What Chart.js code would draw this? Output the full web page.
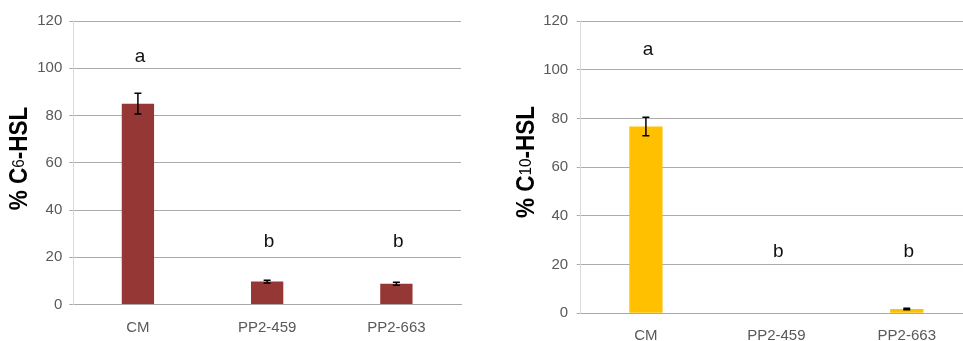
<!DOCTYPE html>
<html>
<head>
<meta charset="utf-8">
<script src="https://cdn.jsdelivr.net/npm/chart.js@4.4.1/dist/chart.umd.min.js"></script>
<style>
  html, body { margin: 0; padding: 0; background: #fff; overflow: hidden; }
  body { width: 963px; height: 341px; position: relative; }
  .panel { position: absolute; top: 0; }
</style>
</head>
<body>
<div class="panel" style="left:0px"><canvas id="c6" width="480" height="341"></canvas></div>
<div class="panel" style="left:483px"><canvas id="c10" width="490" height="360"></canvas></div>

<script>
const categories = ['CM', 'PP2-459', 'PP2-663'];

const c6Values = [85, 9.7, 8.8];
const c6Errors = [4.4, 0.6, 0.6];
const c6Letters = ['a', 'b', 'b'];

const c10Values = [76.7, 0, 1.8];
const c10Errors = [3.8, 0, 0.3];
const c10Letters = ['a', 'b', 'b'];

const yMin = 0;
const yMax = 120;
const yStep = 20;

// error bars + significance letters above each bar
const barMarks = {
  id: 'barMarks',
  afterDatasetsDraw(chart, args, opts) {
    const ctx = chart.ctx;
    const y = chart.scales.y;
    const meta = chart.getDatasetMeta(0);
    const values = chart.data.datasets[0].data;

    ctx.save();
    ctx.strokeStyle = '#000';
    ctx.lineWidth = 1.5;
    meta.data.forEach((bar, i) => {
      const err = opts.errors[i];
      if (!err) return;
      const top = y.getPixelForValue(values[i] + err);
      const bottom = y.getPixelForValue(values[i] - err);
      ctx.beginPath();
      ctx.moveTo(bar.x, top);
      ctx.lineTo(bar.x, bottom);
      ctx.moveTo(bar.x - 3.5, top);
      ctx.lineTo(bar.x + 3.5, top);
      ctx.moveTo(bar.x - 3.5, bottom);
      ctx.lineTo(bar.x + 3.5, bottom);
      ctx.stroke();
    });

    ctx.fillStyle = '#111';
    ctx.font = '19px "Liberation Sans", Arial, sans-serif';
    ctx.textAlign = 'center';
    ctx.textBaseline = 'alphabetic';
    meta.data.forEach((bar, i) => {
      ctx.fillText(opts.letters[i], bar.x + 2, y.getPixelForValue(opts.letterLevels[i]));
    });
    ctx.restore();
  }
};

// rotated y title with a smaller, non-bold carbon number
const yTitle = {
  id: 'yTitle',
  afterDraw(chart, args, opts) {
    const ctx = chart.ctx;
    const parts = [
      { t: '% C', font: 'bold 25px "Liberation Sans", Arial, sans-serif', dy: 0 },
      { t: opts.sub, font: '17px "Liberation Sans", Arial, sans-serif', dy: -3 },
      { t: '-HSL', font: 'bold 25px "Liberation Sans", Arial, sans-serif', dy: 0 }
    ];
    ctx.save();
    let total = 0;
    parts.forEach(p => { ctx.font = p.font; p.w = ctx.measureText(p.t).width; total += p.w; });
    ctx.translate(opts.x, opts.y);
    ctx.rotate(-Math.PI / 2);
    ctx.scale(opts.squeeze, 1);
    ctx.fillStyle = '#000';
    ctx.textBaseline = 'alphabetic';
    ctx.textAlign = 'left';
    let x = -total / 2;
    parts.forEach(p => {
      ctx.font = p.font;
      ctx.fillText(p.t, x, p.dy);
      x += p.w;
    });
    ctx.restore();
  }
};

function makeChart(canvasId, values, errors, letters, color, o) {
  const ctx = document.getElementById(canvasId).getContext('2d');
  return new Chart(ctx, {
    type: 'bar',
    data: {
      labels: categories,
      datasets: [{
        data: values,
        backgroundColor: color,
        borderWidth: 0,
        barPercentage: o.barPct,
        categoryPercentage: 1
      }]
    },
    options: {
      responsive: false,
      animation: false,
      devicePixelRatio: 1,
      layout: { padding: { top: 21, right: o.padRight, left: 0, bottom: 0 } },
      plugins: {
        legend: { display: false },
        tooltip: { enabled: false },
        barMarks: { errors: errors, letters: letters, letterLevels: o.letterLevels },
        yTitle: { sub: o.sub, x: o.titleX, y: o.titleY, squeeze: o.squeeze }
      },
      scales: {
        x: {
          grid: { display: false },
          border: { color: '#a9a9a9' },
          ticks: {
            color: '#595959',
            padding: 6,
            font: { family: '"Liberation Sans", Arial, sans-serif', size: 15 }
          },
          afterFit: s => { s.height = o.xHeight; }
        },
        y: {
          min: yMin,
          max: yMax,
          grid: { color: '#ababab', tickLength: 4 },
          border: { color: '#d9d9d9' },
          ticks: {
            stepSize: yStep,
            color: '#595959',
            padding: o.tickPad,
            font: { family: '"Liberation Sans", Arial, sans-serif', size: 15 }
          },
          afterFit: s => { s.width = o.yWidth; }
        }
      }
    },
    plugins: [barMarks, yTitle]
  });
}

makeChart('c6', c6Values, c6Errors, c6Letters, '#953735', {
  barPct: 0.25, padRight: 19, xHeight: 36.5, yWidth: 73.3, tickPad: 7,
  letterLevels: [102.6, 24.2, 24.2],
  sub: '6', titleX: 27, titleY: 158.5, squeeze: 0.9
});

makeChart('c10', c10Values, c10Errors, c10Letters, '#ffc000', {
  barPct: 0.255, padRight: 1, xHeight: 46.7, yWidth: 97.7, tickPad: 8.5,
  letterLevels: [105.9, 23.3, 23.3],
  sub: '10', titleX: 50.5, titleY: 162, squeeze: 0.9
});
</script>
</body>
</html>
